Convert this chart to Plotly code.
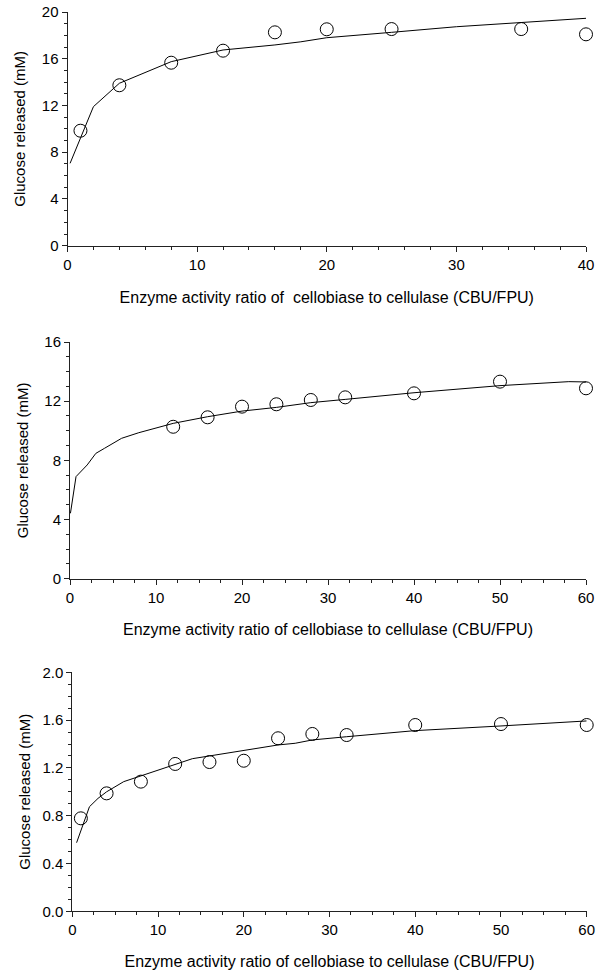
import plotly.graph_objects as go

# ---- Panel 1 ----
p1_x = [1, 4, 8, 12, 16, 20, 25, 35, 40]
p1_y = [9.84, 13.73, 15.66, 16.69, 18.26, 18.52, 18.54, 18.54, 18.09]
p1_fit_x = [0.2, 2, 4, 8, 12, 14, 16, 18, 20, 25, 30, 35, 40]
p1_fit_y = [7.05, 11.9, 13.9, 15.75, 16.75, 16.95, 17.18, 17.45, 17.8, 18.26, 18.74, 19.1, 19.46]

# ---- Panel 2 ----
p2_x = [12, 16, 20, 24, 28, 32, 40, 50, 60]
p2_y = [10.27, 10.91, 11.63, 11.79, 12.08, 12.26, 12.53, 13.32, 12.87]
p2_fit_x = [0.05, 0.7, 2, 3, 4, 6, 8, 10, 12, 16, 20, 24, 28, 32, 40, 50, 58, 60]
p2_fit_y = [4.42, 6.9, 7.69, 8.47, 8.81, 9.49, 9.87, 10.2, 10.5, 10.95, 11.33, 11.58,
            11.9, 12.12, 12.57, 13.05, 13.32, 13.3]

# ---- Panel 3 ----
p3_x = [1, 4, 8, 12, 16, 20, 24, 28, 32, 40, 50, 60]
p3_y = [0.778, 0.987, 1.085, 1.233, 1.249, 1.26, 1.448, 1.484, 1.475, 1.559, 1.567, 1.559]
p3_fit_x = [0.5, 2, 3, 4, 6, 8, 10, 12, 14, 16, 18, 20, 24, 26, 28, 32, 40, 50, 60]
p3_fit_y = [0.574, 0.875, 0.945, 1.0, 1.085, 1.132, 1.183, 1.224, 1.277, 1.3, 1.322, 1.35,
            1.392, 1.406, 1.434, 1.461, 1.512, 1.551, 1.593]

x_title_1 = "Enzyme activity ratio of  cellobiase to cellulase (CBU/FPU)"
x_title_23 = "Enzyme activity ratio of cellobiase to cellulase (CBU/FPU)"
y_title = "Glucose released (mM)"

W, H = 602, 970
FONT = "Liberation Sans, Arial, sans-serif"

fig = go.Figure()

panels = [
    (p1_x, p1_y, p1_fit_x, p1_fit_y, "x", "y"),
    (p2_x, p2_y, p2_fit_x, p2_fit_y, "x2", "y2"),
    (p3_x, p3_y, p3_fit_x, p3_fit_y, "x3", "y3"),
]
for px, py, fx, fy, xa, ya in panels:
    fig.add_trace(go.Scatter(x=fx, y=fy, mode="lines", xaxis=xa, yaxis=ya,
                             line=dict(color="black", width=1), showlegend=False,
                             hoverinfo="skip"))
    fig.add_trace(go.Scatter(x=px, y=py, mode="markers", xaxis=xa, yaxis=ya,
                             marker=dict(symbol="circle-open", size=13, color="black",
                                         line=dict(width=1)),
                             cliponaxis=False, showlegend=False))

def px2dom(a, b, total):
    return [a / total, b / total]

def ydom(top, bottom):
    return [1 - bottom / H, 1 - top / H]

axis_common = dict(showline=True, linecolor="#222", linewidth=1, showgrid=False,
                   zeroline=False, ticks="outside", ticklen=5, tickwidth=1,
                   tickcolor="#222", mirror=False, automargin=False,
                   tickfont=dict(family=FONT, size=15, color="black"))

minor_common = dict(ticks="outside", ticklen=3, tickwidth=1, tickcolor="#222", showgrid=False)

fig.update_layout(
    template="none",
    width=W, height=H,
    margin=dict(l=0, r=0, t=0, b=0, autoexpand=False),
    paper_bgcolor="white", plot_bgcolor="white",
    font=dict(family=FONT, color="black"),
    xaxis=dict(domain=px2dom(67.5, 586, W), range=[0, 40], dtick=10, tick0=0,
               minor=dict(dtick=2, **minor_common), anchor="y",
               title=dict(text=x_title_1, font=dict(size=16), standoff=20), **axis_common),
    yaxis=dict(domain=ydom(12, 245.7), range=[0, 20], dtick=4, tick0=0,
               minor=dict(dtick=1, **minor_common), anchor="x",
               title=dict(text=y_title, font=dict(size=15), standoff=12), **axis_common),
    xaxis2=dict(domain=px2dom(70, 586, W), range=[0, 60], dtick=10, tick0=0,
                minor=dict(dtick=2.5, **minor_common), anchor="y2",
                title=dict(text=x_title_23, font=dict(size=16), standoff=19), **axis_common),
    yaxis2=dict(domain=ydom(342, 578.7), range=[0, 16], dtick=4, tick0=0,
                minor=dict(dtick=1, **minor_common), anchor="x2",
                title=dict(text=y_title, font=dict(size=15), standoff=12), **axis_common),
    xaxis3=dict(domain=px2dom(72.3, 586.7, W), range=[0, 60], dtick=10, tick0=0,
                minor=dict(dtick=2.5, **minor_common), anchor="y3",
                title=dict(text=x_title_23, font=dict(size=16), standoff=18), **axis_common),
    yaxis3=dict(domain=ydom(672.3, 911.3), range=[0, 2.0], dtick=0.4, tick0=0,
                tickformat=".1f",
                minor=dict(dtick=0.1, **minor_common), anchor="x3",
                title=dict(text=y_title, font=dict(size=15), standoff=8), **axis_common),
)

fig.write_html("out.html")
